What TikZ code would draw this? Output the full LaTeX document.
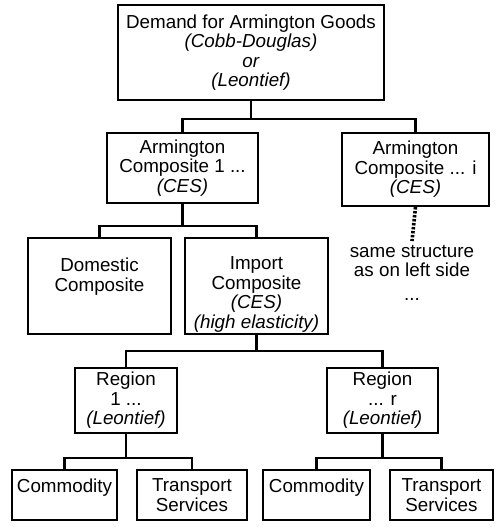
\documentclass[tikz,border=0pt]{standalone}
\usepackage{fontspec}
\setmainfont{Liberation Sans}

\begin{document}
\begin{tikzpicture}[x=0.5pt, y=-0.5pt, line width=1.1pt,
    txt/.style={align=center, inner sep=0pt, font=\fontsize{9.4}{9.75}\selectfont},
    box/.style 2 args={txt, draw, minimum width=#1*0.5pt, minimum height=#2*0.5pt}]
  \useasboundingbox (0,0) rectangle (496,527);

  % top level
  \node[box={266}{95}] (dem) at (251,52.5) {Demand for Armington Goods\\\textit{(Cobb-Douglas)}\\\textit{or}\\\textit{(Leontief)}};

  \node[box={151}{70}] (arm1) at (182.5,168) {Armington\\Composite 1 ...\\\textit{(CES)}};
  \node[box={147}{73}] (armi) at (415.5,169.5) {Armington\\Composite ... i\\\textit{(CES)}};

  \node[box={143}{96}] (dom) at (99.5,286) {\rule{0pt}{15pt}Domestic\\Composite\\~\\~};
  \node[box={143}{96}] (imp) at (256.5,286) {\rule{0pt}{15pt}Import\\Composite\\\textit{(CES)}\\\textit{(high elasticity)}};
  \node[txt, anchor=north, inner sep=1.5pt] (same) at (412,241) {same structure\\as on left side\\[2pt]...};

  \node[box={102}{65}] (reg1) at (126,400.5) {Region\\1 ...\\\textit{(Leontief)}};
  \node[box={111}{65}] (regr) at (382.5,400.5) {Region\\... r\\\textit{(Leontief)}};

  \node[box={105}{50}] (com1) at (64.5,495) {Commodity\\~};
  \node[box={110}{50}] (tra1) at (192,495) {Transport\\Services};
  \node[box={107}{50}] (com2) at (316.5,495) {Commodity\\~};
  \node[box={103}{50}] (tra2) at (441.5,495) {Transport\\Services};

  % connectors
  \foreach \c in {arm1, armi}
    \draw (dem.south) -- ++(0,17.5) -| (\c.north);
  \foreach \c in {dom, imp}
    \draw (arm1.south) -- ++(0,22) -| (\c.north);
  \foreach \c in {reg1, regr}
    \draw (imp.south) -- ++(0,16) -| (\c.north);
  \foreach \c in {com1, tra1}
    \draw (reg1.south) -- ++(0,24) -| (\c.north);
  \foreach \c in {com2, tra2}
    \draw (regr.south) -- ++(0,24) -| (\c.north);

  \draw[line width=1.8pt, dash pattern=on 1.2pt off 0.8pt] (armi.south) -- (same.north);
\end{tikzpicture}
\end{document}
